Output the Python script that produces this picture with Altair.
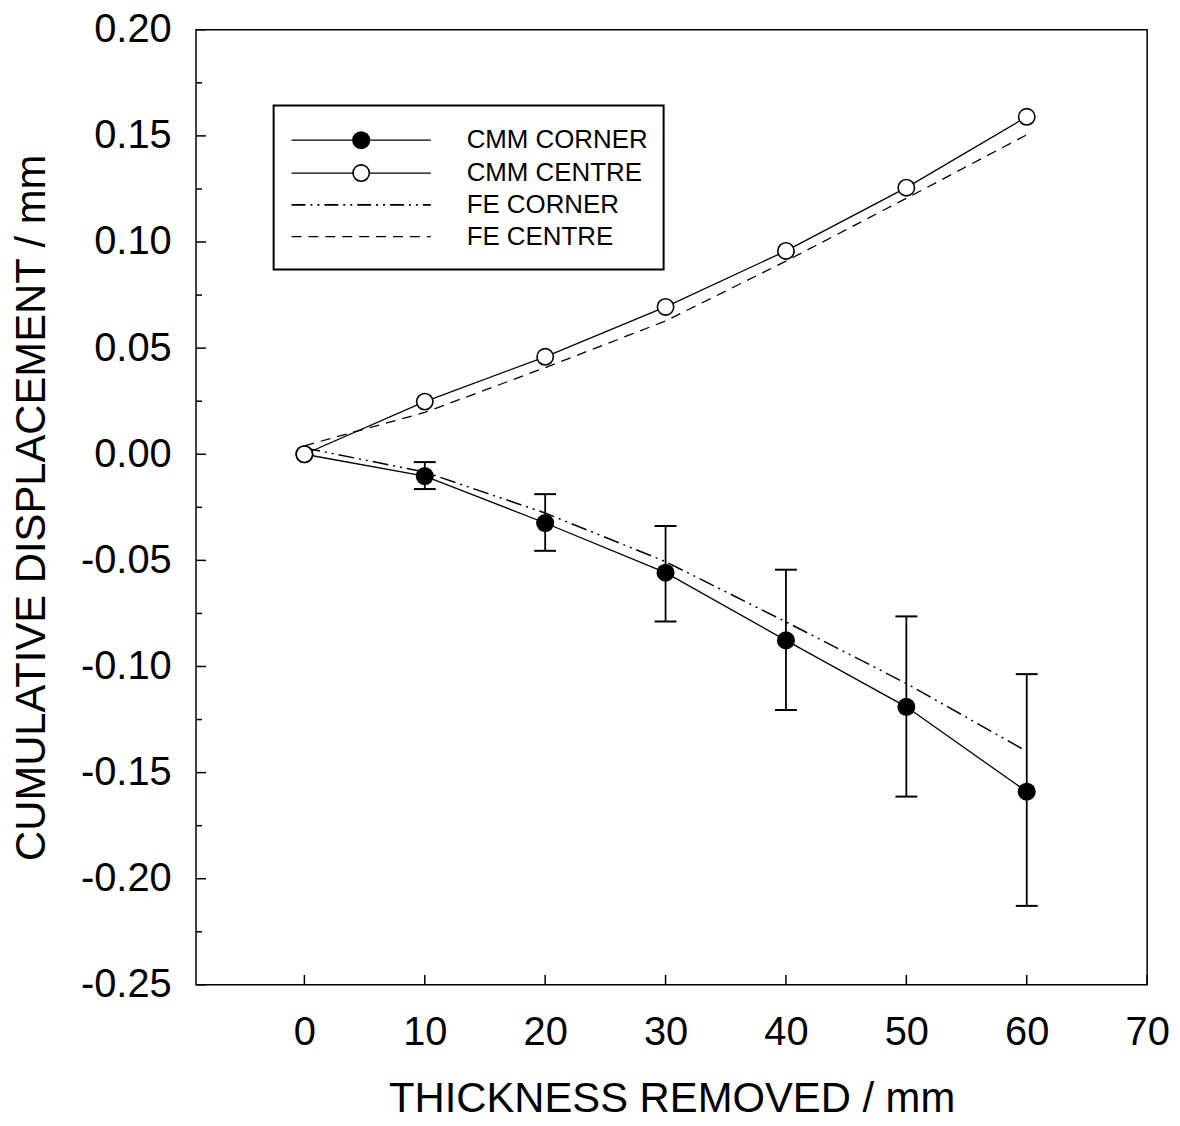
import altair as alt
import pandas as pd

# ---------------- data ----------------
thickness = [0, 10, 20, 30, 40, 50, 60]
cmm_corner = [0.0, -0.0103, -0.0324, -0.0558, -0.0877, -0.119, -0.159]
cmm_centre = [0.0, 0.0248, 0.0459, 0.0694, 0.0958, 0.1256, 0.159]
fe_corner = [0.003, -0.0084, -0.0277, -0.0506, -0.079, -0.108, -0.140]
fe_centre = [0.004, 0.0197, 0.0408, 0.0628, 0.091, 0.1206, 0.1505]

err_thickness = [10, 20, 30, 40, 50, 60]
err_upper = [-0.0037, -0.0188, -0.0338, -0.0544, -0.0764, -0.1036]
err_lower = [-0.0164, -0.0455, -0.0788, -0.1205, -0.1613, -0.2128]

series_names = ["CMM CORNER", "CMM CENTRE", "FE CORNER", "FE CENTRE"]

x_tick_values = [0, 10, 20, 30, 40, 50, 60, 70]
y_tick_values = [-0.25, -0.20, -0.15, -0.10, -0.05, 0.0, 0.05, 0.10, 0.15, 0.20]
y_minor_values = [-0.225, -0.175, -0.125, -0.075, -0.025, 0.025, 0.075, 0.125, 0.175]

x_domain = [-9, 70]
y_domain = [-0.25, 0.20]

# ---------------- layout ----------------
W, H = 956, 960
FONT = "Liberation Sans"

def series_df(name, ys):
    return pd.DataFrame({"x": thickness, "y": ys, "series": name})

X = alt.X(
    "x:Q",
    scale=alt.Scale(domain=x_domain, nice=False, zero=False),
    axis=alt.Axis(
        values=x_tick_values,
        title="THICKNESS REMOVED / mm",
        format="d",
        labelPadding=28,
        labelFlush=False,
        labelOverlap=False,
        titleX=W / 2,
        titleY=127,
        titleAlign="center",
        titleBaseline="alphabetic",
    ),
)
Y = alt.Y(
    "y:Q",
    scale=alt.Scale(domain=y_domain, nice=False, zero=False),
    axis=alt.Axis(
        values=y_tick_values,
        title="CUMULATIVE DISPLACEMENT / mm",
        labelExpr="replace(format(datum.value, '.2f'), '\u2212', '-')",
        labelPadding=25,
        labelFlush=False,
        labelOverlap=False,
        titleX=-152,
        titleY=H / 2,
        titleAlign="center",
        titleBaseline="alphabetic",
    ),
)

df_cc = series_df(series_names[0], cmm_corner)
df_ce = series_df(series_names[1], cmm_centre)
df_fc = series_df(series_names[2], fe_corner)
df_fe = series_df(series_names[3], fe_centre)
df_err = pd.DataFrame({"x": err_thickness, "y": err_upper, "y2": err_lower})

line_cc = alt.Chart(df_cc).mark_line(color="black", strokeWidth=1.3).encode(x=X, y=Y)
line_ce = alt.Chart(df_ce).mark_line(color="black", strokeWidth=1.3).encode(x=X, y=Y)
line_fc = alt.Chart(df_fc).mark_line(
    color="black", strokeWidth=1.5, strokeDash=[16, 5, 2, 5, 2, 5]
).encode(x=X, y=Y)
line_fe = alt.Chart(df_fe).mark_line(
    color="black", strokeWidth=1.3, strokeDash=[10, 7]
).encode(x=X, y=Y)

err_rule = alt.Chart(df_err).mark_rule(color="black", strokeWidth=1.8).encode(
    x=X, y=Y, y2=alt.Y2("y2:Q")
)
cap_top = alt.Chart(df_err).mark_tick(
    color="black", orient="horizontal", size=22, thickness=2, opacity=1
).encode(x=X, y=Y)
cap_bot = alt.Chart(df_err).mark_tick(
    color="black", orient="horizontal", size=22, thickness=2, opacity=1
).encode(x=X, y=alt.Y("y2:Q"))

pts_cc = alt.Chart(df_cc).mark_point(
    shape="circle", filled=True, color="black", size=330, opacity=1
).encode(x=X, y=Y)
pts_ce = alt.Chart(df_ce).mark_point(
    shape="circle", filled=True, fill="white", stroke="black", strokeWidth=1.6,
    size=270, opacity=1
).encode(x=X, y=Y)

# inward ticks
yt = alt.Chart(pd.DataFrame({"y": y_tick_values})).mark_rule(
    color="black", strokeWidth=1.5
).encode(y=Y, x=alt.value(0), x2=alt.value(10))
ym = alt.Chart(pd.DataFrame({"y": y_minor_values})).mark_rule(
    color="black", strokeWidth=1.5
).encode(y=Y, x=alt.value(0), x2=alt.value(6))
xt = alt.Chart(pd.DataFrame({"x": x_tick_values})).mark_rule(
    color="black", strokeWidth=1.5
).encode(x=X, y=alt.value(H), y2=alt.value(H - 10))

# legend box
leg_df = pd.DataFrame({"label": series_names})
box = alt.Chart(leg_df.head(1)).mark_rect(
    fill="white", stroke="black", strokeWidth=2
).encode(x=alt.value(78), x2=alt.value(470), y=alt.value(76), y2=alt.value(241))

row_y = [111, 144, 176, 208]
row_dash = [None, None, [14, 5, 2, 5, 2, 5], [10, 7]]
leg_layers = [box]
for i, name in enumerate(series_names):
    d = pd.DataFrame({"label": [name]})
    kw = dict(color="black", strokeWidth=1.3)
    if row_dash[i] is not None:
        kw["strokeDash"] = row_dash[i]
        kw["strokeWidth"] = 1.8 if i == 2 else 1.3
    leg_layers.append(
        alt.Chart(d).mark_rule(**kw).encode(
            x=alt.value(96), x2=alt.value(236), y=alt.value(row_y[i])
        )
    )
    leg_layers.append(
        alt.Chart(d).mark_text(
            align="left", baseline="middle", font=FONT, fontSize=26, color="black"
        ).encode(x=alt.value(272), y=alt.value(row_y[i]), text="label:N")
    )
leg_layers.append(
    alt.Chart(pd.DataFrame({"label": [series_names[0]]})).mark_point(
        shape="circle", filled=True, color="black", size=330, opacity=1
    ).encode(x=alt.value(166), y=alt.value(row_y[0]))
)
leg_layers.append(
    alt.Chart(pd.DataFrame({"label": [series_names[1]]})).mark_point(
        shape="circle", filled=True, fill="white", stroke="black", strokeWidth=1.6,
        size=270, opacity=1
    ).encode(x=alt.value(166), y=alt.value(row_y[1]))
)

chart = alt.layer(
    line_fe, line_fc, line_cc, line_ce,
    err_rule, cap_top, cap_bot,
    pts_cc, pts_ce,
    yt, ym, xt,
    *leg_layers,
).properties(
    width=W,
    height=H,
    background="white",
    autosize=alt.AutoSizeParams(type="none"),
    padding={"left": 189, "top": 19, "right": 25, "bottom": 140},
).configure_view(
    stroke="black", strokeWidth=1.5, fill="white"
).configure_axis(
    grid=False,
    domain=False,
    ticks=False,
    tickSize=0,
    labelFont=FONT,
    labelFontSize=40,
    labelColor="black",
    titleFont=FONT,
    titleFontSize=42,
    titleFontWeight="normal",
    titleColor="black",
)

chart.save("out.html", embed_options={"renderer": "svg", "actions": False})
